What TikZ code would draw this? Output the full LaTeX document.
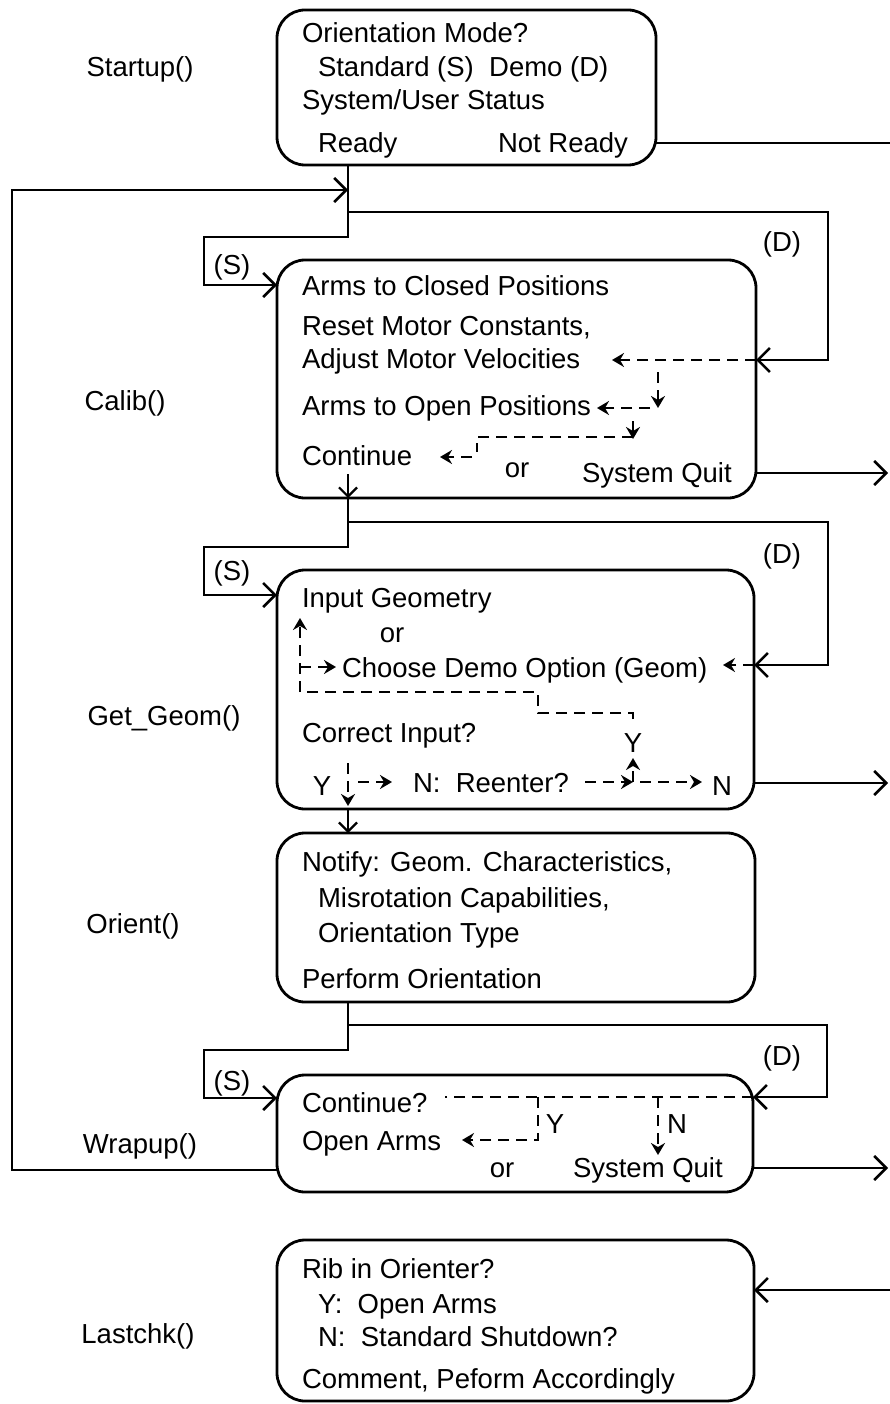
\documentclass[tikz,border=0pt]{standalone}
\usepackage{fontspec}
\setmainfont{Liberation Sans}
\usetikzlibrary{arrows.meta}
\begin{document}
\begin{tikzpicture}[x=1pt,y=-1pt,
  every node/.style={font=\fontsize{27.5pt}{33pt}\selectfont, inner sep=0pt, outer sep=0pt},
  box/.style={draw, line width=2.8pt, rounded corners=28pt, rectangle},
  txt/.style={anchor=base west},
  ctxt/.style={anchor=base},
  conn/.style={line width=2.8pt},
  arr/.style={conn, -{Straight Barb[length=12pt,width=24pt,line width=2.6pt]}},
  sarr/.style={line width=2.2pt, -{Straight Barb[length=9pt,width=18pt,line width=2.2pt]}},
  dsh/.style={line width=2.4pt, dash pattern=on 11pt off 7pt},
  darr/.style={dsh, -{Stealth[length=12pt,width=14pt,inset=4pt]}},
]
\useasboundingbox (0,0) rectangle (890,1404);

% ---------- boxes ----------
\node[box, minimum width=379pt, minimum height=155pt] (startup) at (466.5,87.5) {};
\node[box, minimum width=479pt, minimum height=238pt] (calib) at (516.5,379) {};
\node[box, minimum width=477pt, minimum height=239pt] (geom) at (515.5,689.5) {};
\node[box, minimum width=478pt, minimum height=169pt] (orient) at (516,917.5) {};
\node[box, minimum width=476pt, minimum height=117pt] (wrapup) at (515,1133.5) {};
\node[box, minimum width=477pt, minimum height=161pt] (lastchk) at (515.5,1320.5) {};

% ---------- left labels ----------
\node[ctxt] (lStartup) at (140,77) {Startup()};
\node[ctxt] (lCalib) at (125,410) {Calib()};
\node[ctxt] (lGeom) at (164,725) {Get\_Geom()};
\node[ctxt] (lOrient) at (133,933) {Orient()};
\node[ctxt] (lWrap) at (140,1153) {Wrapup()};
\node[ctxt] (lLast) at (138,1343) {Lastchk()};

% ---------- Startup text ----------
\node[txt] (s1) at (302,43) {Orientation Mode?};
\node[txt] (s2) at (318,77) {Standard (S)\ \ Demo (D)};
\node[txt] (s3) at (302,110) {System/User Status};
\node[txt] (s4) at (318,153) {Ready};
\node[anchor=base east] (s5) at (628,153) {Not Ready};

% ---------- Calib text ----------
\node[txt] (c1) at (302,295) {Arms to Closed Positions};
\node[txt] (c2) at (302,335) {Reset Motor Constants,};
\node[txt] (c3) at (302,368) {Adjust Motor Velocities};
\node[txt] (c4) at (302,415) {Arms to Open Positions};
\node[txt] (c5) at (302,465) {Continue};
\node[ctxt] (c6) at (517,477) {or};
\node[txt] (c7) at (582,482) {System Quit};
\node[ctxt] (cS) at (232,275) {(S)};
\node[ctxt] (cD) at (782,252) {(D)};

% ---------- Get_Geom text ----------
\node[txt] (g1) at (302,607) {Input Geometry};
\node[ctxt] (g2) at (392,642) {or};
\node[txt] (g3) at (342,677) {Choose Demo Option (Geom)};
\node[txt] (g4) at (302,742) {Correct Input?};
\node[ctxt] (g5) at (633,752) {Y};
\node[ctxt] (g6) at (322,795) {Y};
\node[txt] (g7) at (413,792) {N:\ \ Reenter?};
\node[ctxt] (g8) at (722,795) {N};
\node[ctxt] (gS) at (232,580) {(S)};
\node[ctxt] (gD) at (782,563) {(D)};

% ---------- Orient text ----------
\node[txt] (o1) at (302,871) {Notify: Geom. Characteristics,};
\node[txt] (o2) at (318,907) {Misrotation Capabilities,};
\node[txt] (o3) at (318,942) {Orientation Type};
\node[txt] (o4) at (302,988) {Perform Orientation};

% ---------- Wrapup text ----------
\node[txt] (w1) at (302,1112) {Continue?};
\node[txt] (w2) at (302,1150) {Open Arms};
\node[ctxt] (w3) at (502,1177) {or};
\node[txt] (w4) at (573,1177) {System Quit};
\node[ctxt] (w5) at (555,1133) {Y};
\node[ctxt] (w6) at (677,1133) {N};
\node[ctxt] (wS) at (232,1090) {(S)};
\node[ctxt] (wD) at (782,1065) {(D)};

% ---------- Lastchk text ----------
\node[txt] (l1) at (302,1278) {Rib in Orienter?};
\node[txt] (l2) at (318,1313) {Y:\ \ Open Arms};
\node[txt] (l3) at (318,1346) {N:\ \ Standard Shutdown?};
\node[txt] (l4) at (302,1388) {Comment, Peform Accordingly};

% ---------- coordinates ----------
\coordinate (j1) at (348,212);
\coordinate (dC) at (828,360);
\coordinate (sC) at (204,285);
\coordinate (j2) at (348,522);
\coordinate (dG) at (828,665);
\coordinate (sG) at (204,595);
\coordinate (j3) at (348,1025);
\coordinate (dW) at (827,1097);
\coordinate (sW) at (204,1098);
\coordinate (rL) at (12,1170);
\coordinate (rT) at (12,190);
\coordinate (nr) at (890,143);
\coordinate (e1) at (888,473);
\coordinate (e2) at (888,783);
\coordinate (e3) at (888,1168);
\coordinate (e4) at (890,1290);

% ---------- main connectors ----------
\draw[conn] (startup.east |- nr) -- (nr);
\draw[arr] (startup.south -| j1) -- (j1) -| (dC) -- (calib.east |- dC);
\draw[arr] (j1) -- ++(0,25) -| (sC) -- (calib.west |- sC);
\draw[arr] (wrapup.west |- rL) -- (rL) -- (rT) -- (rT -| j1);

\draw[arr] (calib.east |- e1) -- (e1);
\draw[sarr] (348,474) -- (calib.south -| j2);
\draw[arr] (calib.south -| j2) -- (j2) -| (dG) -- (geom.east |- dG);
\draw[arr] (j2) -- ++(0,25) -| (sG) -- (geom.west |- sG);

\draw[arr] (geom.east |- e2) -- (e2);
\draw[sarr] (geom.south -| j2) -- (orient.north -| j2);

\draw[arr] (orient.south -| j3) -- (j3) -| (dW) -- (wrapup.east |- dW);
\draw[arr] (j3) -- ++(0,25) -| (sW) -- (wrapup.west |- sW);
\draw[arr] (wrapup.east |- e3) -- (e3);

\draw[arr] (e4) -- (lastchk.east |- e4);

% ---------- Calib dashed ----------
\draw[darr] (calib.east |- dC) -- (612,360);
\draw[darr] (658,372) -- (658,408);
\draw[darr] (650,408) -- (597,408);
\draw[darr] (633,421) -- (633,439);
\draw[dsh] (633,437) -- (477,437) -- (477,452);
\draw[darr] (472,457) -- (440,457);

% ---------- Get_Geom dashed ----------
\draw[darr] (geom.east |- dG) -- (723,665);
\draw[darr] (633,719) -- (633,713) -- (538,713) -- (538,692) -- (300,692) -- (300,618);
\draw[darr] (300,667) -- (336,667);
\draw[darr] (348,763) -- (348,806);
\draw[darr] (358,782) -- (392,782);
\draw[darr] (585,782) -- (633,782);
\draw[darr] (640,782) -- (702,782);
\draw[darr] (633,782) -- (633,758);

% ---------- Wrapup dashed ----------
\draw[dsh] (wrapup.east |- dW) -- (445,1097);
\draw[darr] (538,1097) -- (538,1140) -- (462,1140);
\draw[darr] (658,1097) -- (658,1155);
\end{tikzpicture}
\end{document}
